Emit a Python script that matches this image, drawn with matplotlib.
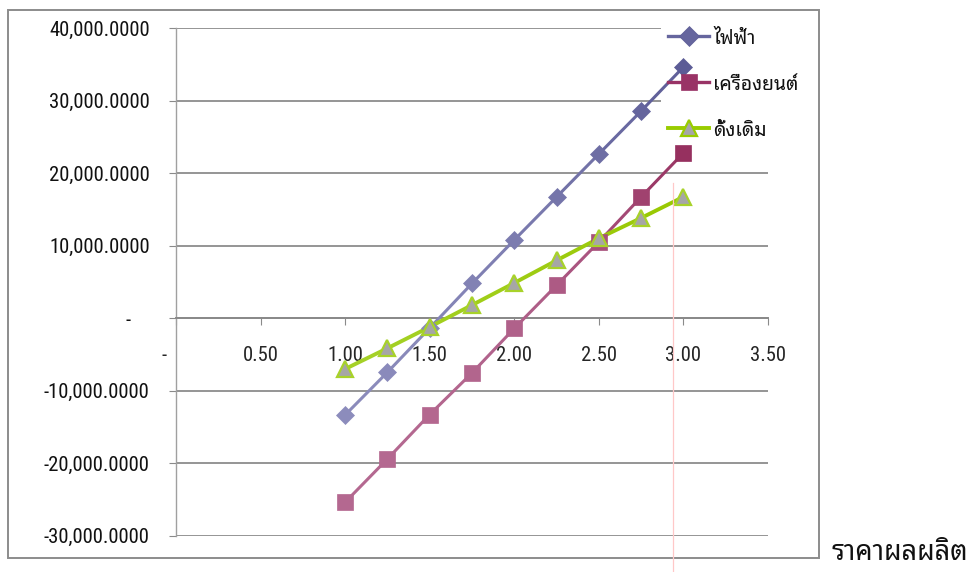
import math
import re
import matplotlib
matplotlib.use("Agg")
import matplotlib.pyplot as plt
from matplotlib import font_manager as fm
from matplotlib.ft2font import FT2Font
from matplotlib.lines import Line2D
from matplotlib.patches import Rectangle
from matplotlib.collections import LineCollection
from matplotlib.transforms import ScaledTranslation
import numpy as np

# ---------------- data ----------------
x_price = [1.00, 1.25, 1.50, 1.75, 2.00, 2.25, 2.50, 2.75, 3.00]
electric = [-13340, -7450, -1350, 4800, 10800, 16730, 22660, 28590, 34660]
engine = [-25380, -19410, -13280, -7550, -1400, 4550, 10530, 16730, 22800]
traditional = [-7000, -4140, -1200, 1820, 4870, 7980, 11030, 13830, 16740]
series_names = ["ไฟฟ้า", "เครื่องยนต์", "ดั้งเดิม"]
x_ticks = [0, 0.5, 1.0, 1.5, 2.0, 2.5, 3.0, 3.5]
y_ticks = [-30000, -20000, -10000, 0, 10000, 20000, 30000, 40000]
x_title = "ราคาผลผลิต"


# ---------------- font selection ----------------
def measure(path, text, hchar):
    ft = FT2Font(path, hinting_factor=1)
    ft.set_size(100, 72)  # 100 px per em
    cm = ft.get_charmap()
    if any(ord(c) not in cm for c in text + hchar):
        return None
    w = sum(ft.load_char(ord(c)).horiAdvance / 64.0 for c in text)
    h = ft.load_char(ord(hchar)).height / 64.0
    return w / 100.0, h / 100.0


latin_ok = re.compile(r"^(Liberation Sans( Narrow)?|Roboto( Condensed)?|Open Sans( Condensed)?|"
                      r"Noto Sans( Display)?( (Semi|Extra)?Condensed)?|DejaVu Sans|Lato|Inter|Arimo)$")

best = None
seen = set()
target_ratio = 17 / 102
for f in fm.fontManager.ttflist:
    if f.fname in seen or f.style != "normal" or f.weight != 400:
        continue
    seen.add(f.fname)
    if not latin_ok.match(f.name):
        continue
    try:
        m = measure(f.fname, "40,000.0000", "0")
    except Exception:
        m = None
    if not m or m[0] < 2:
        continue
    r = m[1] / m[0]
    score = abs(math.log(r / target_ratio))
    if best is None or score < best[0]:
        best = (score, f.fname, m[0])
if best:
    tick_fp = fm.FontProperties(fname=best[1], size=(102 / best[2]) * 0.72)
else:
    tick_fp = fm.FontProperties(family="DejaVu Sans", stretch="condensed", size=12.8)

thai_pref = ["Noto Sans Thai Looped", "Loma", "Waree", "Garuda", "Umpush", "Tlwg Typo",
             "Sawasdee", "Noto Sans Thai", "Noto Sans Thai UI"]
names = {f.name for f in fm.fontManager.ttflist}
thai_family = None
for nm in thai_pref:
    if nm in names:
        thai_family = nm
        break
if thai_family is None:
    for f in fm.fontManager.ttflist:
        try:
            if 0x0E44 in FT2Font(f.fname).get_charmap() and "Serif" not in f.name:
                thai_family = f.name
                break
        except Exception:
            pass
if thai_family is None:
    thai_family = "DejaVu Sans"


def family_file(family, bold):
    cands = []
    for f in fm.fontManager.ttflist:
        if f.name != family or f.style != "normal":
            continue
        wt = f.weight if isinstance(f.weight, int) else 400
        cands.append((abs(wt - (700 if bold else 400)), f.fname))
    if not cands:
        return None
    cands.sort()
    return cands[0][1]


def sized_fp(family, bold, text, target_w, default):
    path = family_file(family, bold)
    try:
        if path:
            m = measure(path, text, text[0])
            if m:
                return fm.FontProperties(fname=path, size=(target_w / m[0]) * 0.72)
    except Exception:
        pass
    return fm.FontProperties(family=[family, "DejaVu Sans"],
                             weight="bold" if bold else "normal", size=default)


legend_fp = sized_fp(thai_family, False, "เครื่องยนต์", 86, 14)
title_fp = sized_fp(thai_family, True, x_title, 138, 17)

W, H = 972, 572
fig = plt.figure(figsize=(W / 100, H / 100), dpi=100)


def fx(px):
    return px / W


def fy(py):
    return 1 - py / H


ax = fig.add_axes([fx(176), fy(535.7), fx(768) - fx(176), fy(28.3) - fy(535.7)])
ax.set_xlim(0, 3.5)
ax.set_ylim(-30000, 40000)

for s in ["top", "right"]:
    ax.spines[s].set_visible(False)
ax.spines["left"].set_position(("data", 0))
ax.spines["bottom"].set_position(("data", 0))
ax.spines["left"].set_color("#a0a0a0")
ax.spines["bottom"].set_color("#8a8a8a")
ax.spines["bottom"].set_linewidth(1.4)
ax.spines["left"].set_linewidth(1.0)

ax.set_axisbelow(True)
ax.yaxis.grid(True, color="#8c8c8c", linewidth=1.3)
ax.xaxis.grid(False)

ax.tick_params(axis="x", direction="out", length=5, color="#8a8a8a", pad=15)
ax.tick_params(axis="y", direction="out", length=5, color="#8a8a8a", pad=14)
ax.set_xticks(x_ticks)
ax.set_xticklabels(["-" if v == 0 else f"{v:.2f}" for v in x_ticks],
                   fontproperties=tick_fp, color="#262626")
ax.set_yticks(y_ticks)
ax.set_yticklabels(["-" if v == 0 else f"{v:,.4f}" for v in y_ticks],
                   fontproperties=tick_fp, color="#111111")

for tick, v in zip(ax.xaxis.get_major_ticks(), x_ticks):
    if v == 0:
        tick.label1.set_transform(tick.label1.get_transform() +
                                  ScaledTranslation(-12 / 100, 0, fig.dpi_scale_trans))
for tick, v in zip(ax.yaxis.get_major_ticks(), y_ticks):
    if v == 0:
        tick.label1.set_transform(tick.label1.get_transform() +
                                  ScaledTranslation(-19 / 100, 0, fig.dpi_scale_trans))


def blend(c1, c2, t):
    a = np.array(matplotlib.colors.to_rgb(c1))
    b = np.array(matplotlib.colors.to_rgb(c2))
    return tuple(a + (b - a) * t)


def draw_series(xs, ys, light, dark, marker, ms, lw, edge=None, face=None, power=1.0):
    n = len(xs)
    ts = [(i / (n - 1)) ** power for i in range(n)]
    segs = [[(xs[i], ys[i]), (xs[i + 1], ys[i + 1])] for i in range(n - 1)]
    seg_cols = [blend(light, dark, (ts[i] + ts[i + 1]) / 2) for i in range(n - 1)]
    lc = LineCollection(segs, colors=seg_cols, linewidths=lw, zorder=3, capstyle="round")
    ax.add_collection(lc)
    for i in range(n):
        c = blend(light, dark, ts[i])
        ax.plot([xs[i]], [ys[i]], marker=marker, ms=ms, linestyle="none",
                markerfacecolor=face if face else c,
                markeredgecolor=edge if edge else c,
                markeredgewidth=1.6 if edge else 0.5, zorder=4)


draw_series(x_price, electric, "#8c8cbc", "#5c5c96", "D", 9, 2.2, power=1.6)
draw_series(x_price, engine, "#b46890", "#96305f", "s", 11, 2.2, power=3.0)
draw_series(x_price, traditional, "#a6d22a", "#98c800", "^", 12, 2.8,
            edge="#a8d22a", face="#a6a6a6")

# ---------------- legend (top right, over the plot area) ----------------
ax.add_patch(Rectangle((fx(661), fy(146)), fx(812) - fx(661), fy(16) - fy(146),
                       transform=fig.transFigure, facecolor="white", edgecolor="none",
                       zorder=2, clip_on=False))
legend_styles = [
    dict(color="#66669e", lw=2.4, marker="D", ms=10, mec="#5c5c96", mfc="#66669e", mew=0.5),
    dict(color="#993366", lw=2.4, marker="s", ms=11, mec="#993366", mfc="#993366", mew=0.5),
    dict(color="#99cc00", lw=2.8, marker="^", ms=12, mec="#99cc00", mfc="#a6a6a6", mew=1.6),
]
legend_rows = [36, 82, 128]
for name, st, row in zip(series_names, legend_styles, legend_rows):
    ax.add_line(Line2D([fx(668), fx(709)], [fy(row), fy(row)], transform=fig.transFigure,
                       clip_on=False, zorder=5, color=st["color"], lw=st["lw"]))
    ax.add_line(Line2D([fx(688.5)], [fy(row)], transform=fig.transFigure, clip_on=False,
                       zorder=6, linestyle="none", marker=st["marker"], ms=st["ms"],
                       markerfacecolor=st["mfc"], markeredgecolor=st["mec"],
                       markeredgewidth=st["mew"]))
    fig.text(fx(713), fy(row + 1), name, ha="left", va="center_baseline",
             fontproperties=legend_fp, color="#111111")

fig.patches.append(Rectangle((fx(8), fy(558)), fx(819) - fx(8), fy(10) - fy(558),
                             transform=fig.transFigure, fill=False,
                             edgecolor="#8c8c8c", linewidth=1.4, zorder=0))
fig.lines.append(Line2D([fx(673), fx(673)], [fy(183), 0], transform=fig.transFigure,
                        color="#ffc8c8", linewidth=0.9, zorder=1))

fig.text(fx(831), fy(553), x_title, ha="left", va="center",
         fontproperties=title_fp, color="#111111")

fig.savefig("out.png", dpi=100)
